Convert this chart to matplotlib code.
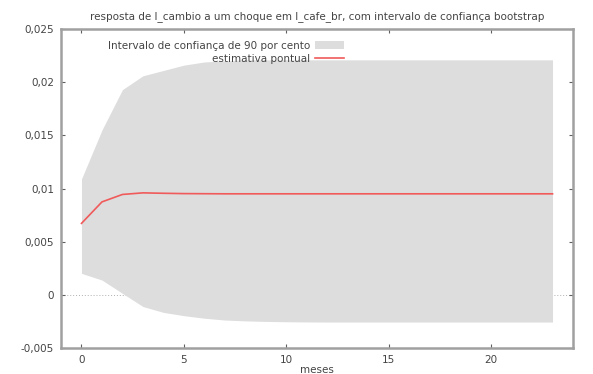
import matplotlib
matplotlib.use("Agg")
import matplotlib.pyplot as plt
import matplotlib.ticker as mticker

months = list(range(24))
point = [0.00672, 0.00874, 0.00944, 0.00959, 0.00955, 0.00952, 0.00951, 0.00950,
         0.00950, 0.00950, 0.00950, 0.00950, 0.00950, 0.00950, 0.00950, 0.00950,
         0.00950, 0.00950, 0.00950, 0.00950, 0.00950, 0.00950, 0.00950, 0.00950]
upper = [0.0109, 0.0155, 0.0193, 0.0206, 0.0211, 0.0216, 0.0219, 0.0220,
         0.0221, 0.0221, 0.0221, 0.0221, 0.0221, 0.0221, 0.0221, 0.0221,
         0.0221, 0.0221, 0.0221, 0.0221, 0.0221, 0.0221, 0.0221, 0.0221]
lower = [0.00202, 0.00139, 0.00014, -0.0011, -0.00165, -0.00196, -0.0022, -0.00237,
         -0.00245, -0.0025, -0.00253, -0.00255, -0.00256, -0.00256, -0.00256, -0.00256,
         -0.00256, -0.00256, -0.00256, -0.00256, -0.00256, -0.00256, -0.00256, -0.00256]

title = "resposta de l_cambio a um choque em l_cafe_br, com intervalo de confiança bootstrap"
band_label = "Intervalo de confiança de 90 por cento"
line_label = "estimativa pontual"
xlabel = "meses"
yticks = [-0.005, 0, 0.005, 0.01, 0.015, 0.02, 0.025]
xticks = [0, 5, 10, 15, 20]

FS = 7.5
fig = plt.figure(figsize=(5.93, 3.74), dpi=100)
ax = fig.add_axes([61/593, 1-348/374, (573-61)/593, (348-29)/374])

ax.fill_between(months, lower, upper, color="#dddddd", linewidth=0, label=band_label)
ax.plot(months, point, color="#f05a5a", linewidth=1.2, label=line_label)
ax.axhline(0, color="#b0b0b0", linewidth=0.7, linestyle=(0, (1, 2)), zorder=0.5)

ax.set_xlim(-1, 24)
ax.set_ylim(-0.005, 0.025)
ax.set_xticks(xticks)
ax.set_yticks(yticks)

def fmt(v, pos):
    if abs(v) < 1e-12:
        return "0"
    return ("%g" % v).replace(".", ",")
ax.yaxis.set_major_formatter(mticker.FuncFormatter(fmt))
ax.xaxis.set_major_formatter(mticker.FuncFormatter(lambda v, p: "%d" % v))

for s in ax.spines.values():
    s.set_color("#a0a0a0")
    s.set_linewidth(1.8)
ax.tick_params(direction="in", length=3, width=0.8, color="#606060",
               top=True, right=True, labelsize=FS, labelcolor="#444444", pad=5)

ax.set_title(title, fontsize=FS, color="#444444", pad=7)
ax.set_xlabel(xlabel, fontsize=FS, color="#444444", labelpad=0)

leg = ax.legend(loc="upper left", bbox_to_anchor=(0.078, 0.985), frameon=False,
                fontsize=FS, markerfirst=False, handlelength=2.8,
                handletextpad=0.5, labelspacing=0.3, borderaxespad=0.25)
for t in leg.get_texts():
    t.set_color("#444444")
    t.set_ha("right")

fig.savefig("out.png", dpi=100)
